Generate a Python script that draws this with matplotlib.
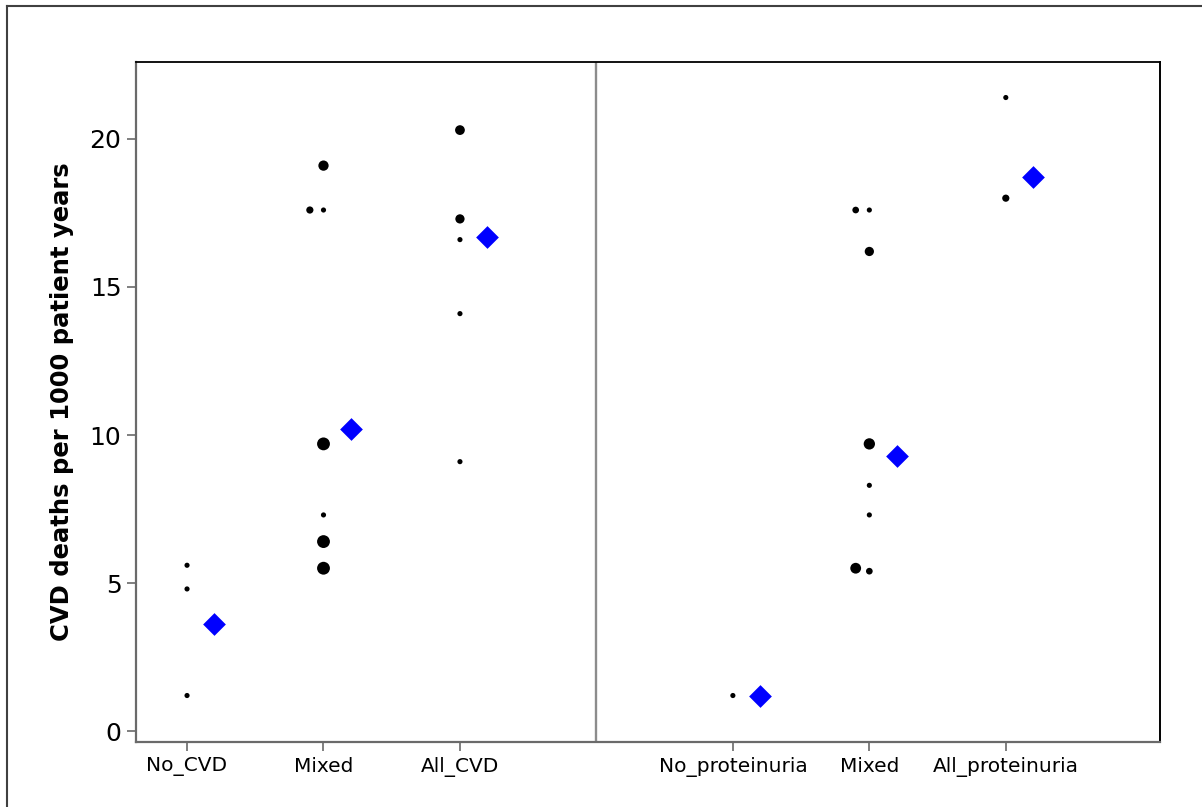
import matplotlib

matplotlib.use("Agg")
import matplotlib.pyplot as plt
from matplotlib.lines import Line2D
import numpy as np

# study-level CVD death rates, grouped by CVD status and by proteinuria status
cvd_labels = ["No_CVD", "Mixed", "All_CVD"]
cvd_group = [0, 0, 0, 1, 1, 1, 1, 1, 1, 1, 2, 2, 2, 2, 2]
cvd_rate = [5.6, 4.8, 1.2, 19.1, 17.6, 17.6, 9.7, 7.3, 6.4, 5.5, 20.3, 17.3, 16.6, 14.1, 9.1]
cvd_weight = [1.0, 1.0, 1.0, 2.0, 1.4, 1.0, 2.5, 1.0, 2.5, 2.5, 1.9, 1.8, 1.0, 1.0, 1.0]
cvd_mean = [3.6, 10.2, 16.7]

prot_labels = ["No_proteinuria", "Mixed", "All_proteinuria"]
prot_group = [0, 1, 1, 1, 1, 1, 1, 1, 1, 2, 2]
prot_rate = [1.2, 17.6, 17.6, 16.2, 9.7, 8.3, 7.3, 5.5, 5.4, 21.4, 18.0]
prot_weight = [1.0, 1.3, 1.0, 1.8, 2.2, 1.0, 1.0, 2.1, 1.3, 1.0, 1.4]
prot_mean = [1.2, 9.3, 18.7]

YLABEL = "CVD deaths per 1000 patient years"
GREY = "#6a6a6a"


def dodge(group, rate, weight, step=0.1, tol=0.25):
    # push the bigger of two near-tied points in a group a little to the left
    off = np.zeros(len(rate))
    for i in range(len(rate)):
        for j in range(len(rate)):
            if i != j and group[i] == group[j] and abs(rate[i] - rate[j]) < tol:
                if weight[i] > weight[j]:
                    off[i] = -step
    return off


def draw_panel(ax, base, group, rate, weight, mean):
    g = np.asarray(group, dtype=float)
    w = np.asarray(weight, dtype=float)
    x = base + g + dodge(group, rate, weight)
    ax.scatter(x, rate, s=(3.7 * w) ** 2, color="black", linewidths=0, zorder=3)
    xm = base + np.arange(len(mean)) + 0.2
    ax.scatter(xm, mean, marker="D", s=134, color="#0000FF", linewidths=0, zorder=4)


fig = plt.figure(figsize=(12.02, 8.07), dpi=100)
ax = fig.add_axes([136 / 1202, 65 / 807, 1024 / 1202, 680 / 807])

draw_panel(ax, 0, cvd_group, cvd_rate, cvd_weight, cvd_mean)
draw_panel(ax, 4, prot_group, prot_rate, prot_weight, prot_mean)

ax.axvline(3.0, color="#8c8c8c", lw=1.7, zorder=2)
ax.set_xlim(-0.374, 7.13)
ax.set_ylim(-0.37, 22.6)
ax.set_xticks([0, 1, 2, 4, 5, 6])
ax.set_xticklabels(cvd_labels + prot_labels, fontsize=14.5, family="DejaVu Sans")
ax.set_yticks([0, 5, 10, 15, 20])
ax.set_yticklabels(["0", "5", "10", "15", "20"], fontsize=18, family="DejaVu Sans")
ax.tick_params(axis="both", direction="out", length=6.5, width=1.2, color=GREY)
ax.tick_params(axis="y", pad=4)
ax.tick_params(axis="x", pad=4)
ax.set_ylabel(YLABEL, fontsize=17.5, fontweight="bold", labelpad=11)

for side in ("left", "bottom"):
    ax.spines[side].set_color(GREY)
    ax.spines[side].set_linewidth(1.6)
ax.spines["top"].set_color("black")
ax.spines["top"].set_linewidth(1.3)
ax.spines["right"].set_color("black")
ax.spines["right"].set_linewidth(1.4)

# outer frame, only its top and left edges fall inside the picture
fig.add_artist(Line2D([6.5 / 1202, 1.0], [1 - 5.5 / 807, 1 - 5.5 / 807],
                      transform=fig.transFigure, color="#404040", lw=1.5))
fig.add_artist(Line2D([6.5 / 1202, 6.5 / 1202], [0.0, 1 - 5.5 / 807],
                      transform=fig.transFigure, color="#404040", lw=1.5))

fig.savefig("out.png", dpi=100, facecolor="white")
